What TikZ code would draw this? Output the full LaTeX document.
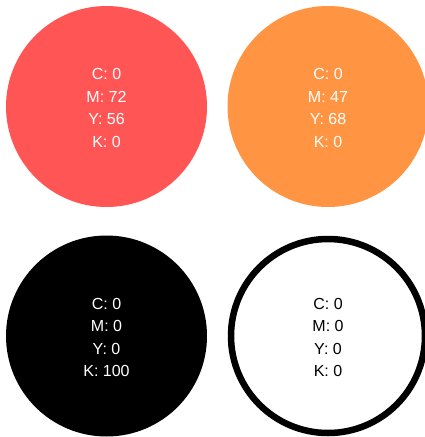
\documentclass[tikz,border=0pt]{standalone}
\usepackage{fontspec}
\setmainfont{Liberation Sans}
\definecolor{cred}{RGB}{255,85,85}
\definecolor{corange}{RGB}{255,148,66}
\tikzset{
  disc/.style={circle, minimum size=201pt, inner sep=0pt},
  ring/.style={circle, minimum size=194pt, inner sep=0pt, draw=black, line width=6.5pt, fill=white},
  cmyk/.style={inner sep=0pt, align=center, font={\fontsize{16}{22.6}\selectfont}}
}
\begin{document}
\begin{tikzpicture}[x=1pt,y=-1pt]
\useasboundingbox[fill=white] (0,0) rectangle (425,437);
\node[disc, fill=cred] (red) at (106.5,106.5) {};
\node[disc, fill=corange] (orange) at (328,106.5) {};
\node[disc, fill=black] (black) at (106.5,336) {};
\node[ring] (white) at (328,336) {};
\node[cmyk, text=white] (redt) at ([yshift=-1.5pt]red.center) {C: 0\\M: 72\\Y: 56\\K: 0};
\node[cmyk, text=white] (oranget) at ([yshift=-1.5pt]orange.center) {C: 0\\M: 47\\Y: 68\\K: 0};
\node[cmyk, text=white] (blackt) at ([yshift=-1.5pt]black.center) {C: 0\\M: 0\\Y: 0\\K: 100};
\node[cmyk, text=black] (whitet) at ([yshift=-1.5pt]white.center) {C: 0\\M: 0\\Y: 0\\K: 0};
\end{tikzpicture}
\end{document}
